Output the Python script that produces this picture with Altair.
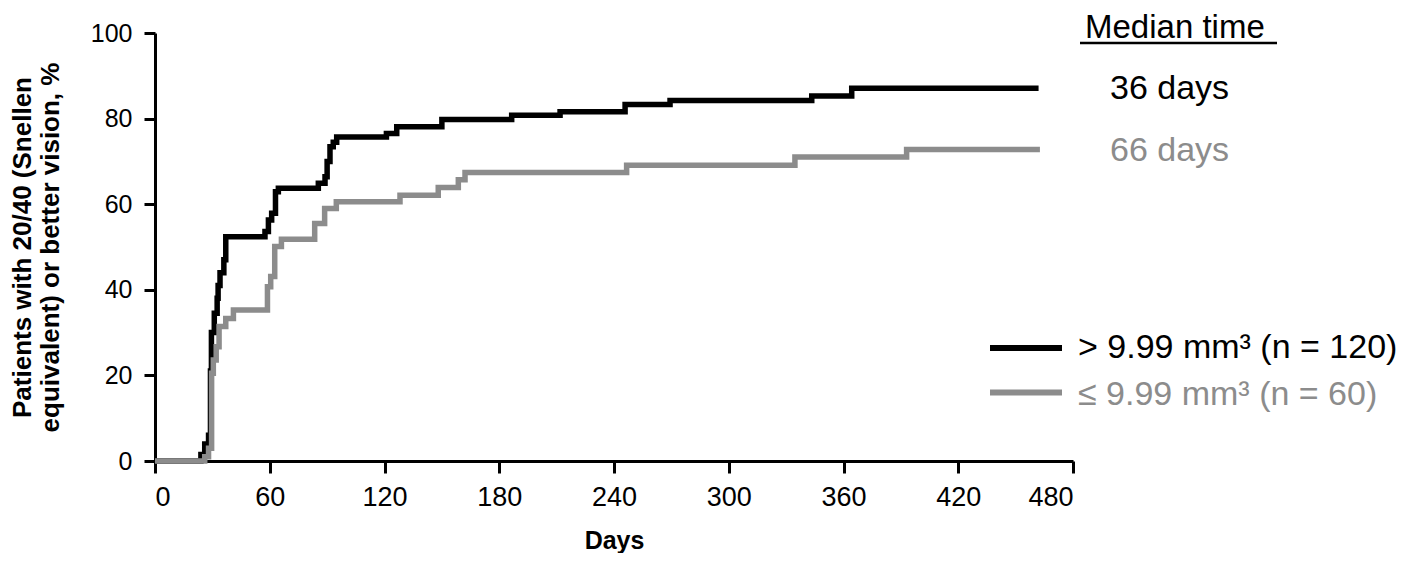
import altair as alt
import pandas as pd

# Black curve: > 9.99 mm3 (n = 120)
big_days = [0, 24, 26, 28, 29, 29.5, 31, 32.5, 33, 34, 36, 37, 57.5, 59.3, 61, 63, 64.5,
            85.4, 88.9, 90, 91.5, 93.2, 95, 121, 126.4, 150, 186.5, 211.8, 245.8, 269.3,
            343.4, 364.3, 462]
big_pct = [0, 1.5, 4, 6, 21, 30, 34.5, 38, 41, 44, 47, 52.4, 53.6, 56.3, 57.9, 62.9, 63.7,
           64.9, 66.4, 70, 73.4, 74.5, 75.7, 76.5, 78.1, 79.8, 80.8, 81.6, 83.3, 84.2,
           85.3, 87.1, 87.1]

# Gray curve: <= 9.99 mm3 (n = 60)
small_days = [0, 26, 28, 29.6, 30.5, 32, 33.5, 37, 41, 57.5, 58.8, 60.5, 62.6, 66.1, 83.5,
              88.7, 94.8, 128.1, 148.1, 158.6, 162.1, 246.6, 334.6, 393, 462.7]
small_pct = [0, 1, 3, 20.5, 23.6, 26.7, 31.4, 33.3, 35.3, 35.3, 40.7, 43.1, 50.1, 51.8, 55.5,
             59, 60.6, 62.1, 63.9, 65.7, 67.4, 69.1, 71.0, 72.8, 72.8]

x_ticks = [0, 60, 120, 180, 240, 300, 360, 420, 480]
y_ticks = [0, 20, 40, 60, 80, 100]

groups = ["> 9.99 mm³ (n = 120)", "≤ 9.99 mm³ (n = 60)"]
colors = ["#000000", "#8c8c8c"]
medians = ["36 days", "66 days"]

df = pd.concat([
    pd.DataFrame({"day": big_days, "pct": big_pct, "group": groups[0]}),
    pd.DataFrame({"day": small_days, "pct": small_pct, "group": groups[1]}),
])

FONT = "Liberation Sans"
W, H = 918, 428

base = alt.Chart(df)

lines = base.mark_line(interpolate="step-after", strokeWidth=5.5, strokeJoin="miter").encode(
    x=alt.X("day:Q",
            scale=alt.Scale(domain=[0, 480], nice=False, zero=True),
            axis=alt.Axis(values=x_ticks, title="Days", grid=False,
                          labelFontSize=27, labelFont=FONT, labelColor="black",
                          labelPadding=11, tickSize=12, tickWidth=3, tickColor="black",
                          domainWidth=3, domainColor="black",
                          titleFont=FONT, titleFontSize=25, titleFontWeight="bold",
                          titleColor="black", titleY=87, titleBaseline="alphabetic")),
    y=alt.Y("pct:Q",
            scale=alt.Scale(domain=[0, 100], nice=False),
            axis=alt.Axis(values=y_ticks, grid=False,
                          title=["Patients with 20/40 (Snellen", "equivalent) or better vision, %"],
                          labelFontSize=25, labelFont=FONT, labelColor="black",
                          labelPadding=12, tickSize=11, tickWidth=3, tickColor="black",
                          domainWidth=3, domainColor="black",
                          titleFont=FONT, titleFontSize=26, titleFontWeight="bold",
                          titleColor="black", titleAngle=-90, titleX=-146, titleY=214,
                          titleAlign="center", titleBaseline="top", titleLineHeight=28)),
    color=alt.Color("group:N", scale=alt.Scale(domain=groups, range=colors), legend=None),
    order=alt.Order("day:Q"),
)


def one(label):
    return alt.Chart(pd.DataFrame({"t": [label]}))


BIG = 34
ann = []
ann.append(one("Median time").mark_text(font=FONT, fontSize=33, align="left",
                                        baseline="alphabetic", color="black").encode(
    x=alt.value(930), y=alt.value(5), text="t:N"))
ann.append(one("u").mark_rule(color="black", strokeWidth=2.5).encode(
    x=alt.value(925), x2=alt.value(1122), y=alt.value(10)))
ann.append(one(medians[0]).mark_text(font=FONT, fontSize=BIG, align="left",
                                     baseline="alphabetic", color=colors[0]).encode(
    x=alt.value(955), y=alt.value(66), text="t:N"))
ann.append(one(medians[1]).mark_text(font=FONT, fontSize=BIG, align="left",
                                     baseline="alphabetic", color=colors[1]).encode(
    x=alt.value(955), y=alt.value(128), text="t:N"))
# legend
ann.append(one("l1").mark_rule(color=colors[0], strokeWidth=6).encode(
    x=alt.value(835), x2=alt.value(907), y=alt.value(315)))
ann.append(one("l2").mark_rule(color=colors[1], strokeWidth=6).encode(
    x=alt.value(835), x2=alt.value(907), y=alt.value(359.5)))
ann.append(one(groups[0]).mark_text(font=FONT, fontSize=BIG, align="left",
                                    baseline="alphabetic", color=colors[0]).encode(
    x=alt.value(923), y=alt.value(325), text="t:N"))
ann.append(one(groups[1]).mark_text(font=FONT, fontSize=BIG, align="left",
                                    baseline="alphabetic", color=colors[1]).encode(
    x=alt.value(923), y=alt.value(372), text="t:N"))

chart = alt.layer(lines, *ann).properties(
    width=W, height=H,
    autosize=alt.AutoSizeParams(type="none"),
    padding={"left": 147, "top": 25, "right": 331, "bottom": 92},
).configure(background="white").configure_view(stroke=None)

chart.save("out.html", embed_options={"renderer": "svg", "actions": False})
